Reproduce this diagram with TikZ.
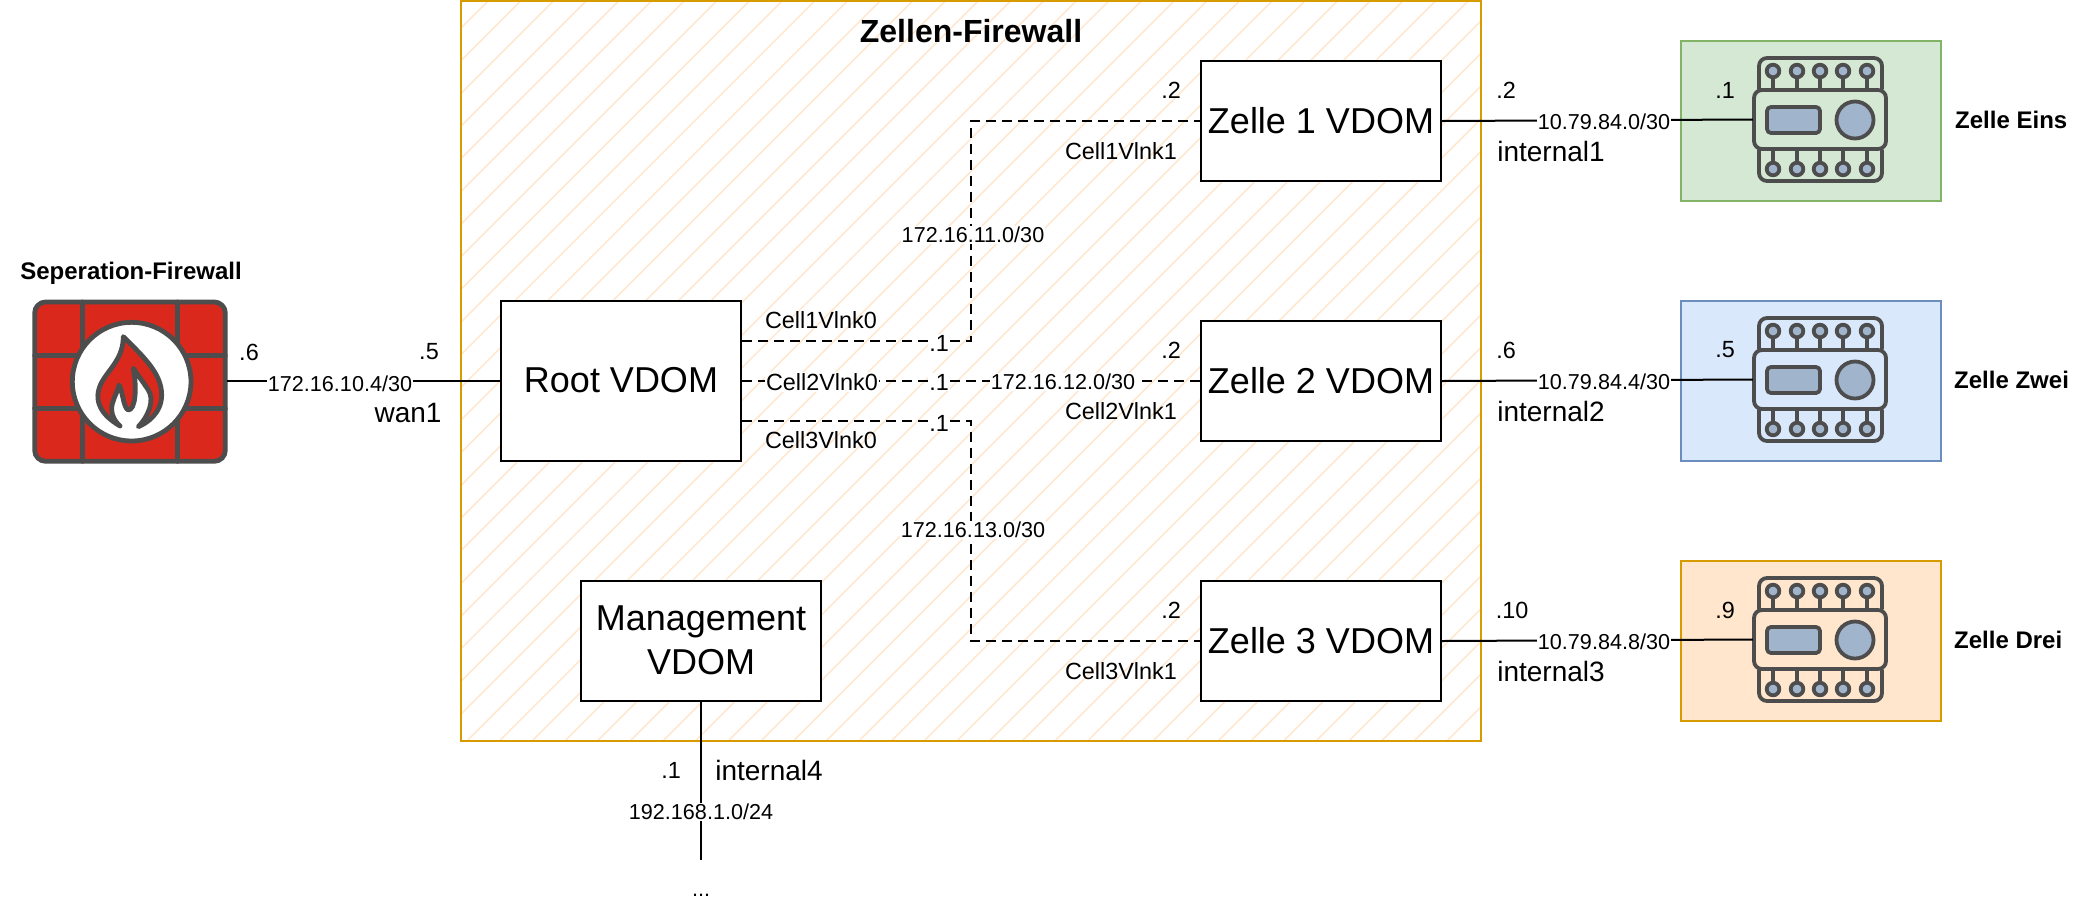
\documentclass[tikz,border=0pt]{standalone}
\usepackage{fontspec}
\setmainfont{Liberation Sans}
\newcommand{\szS}{\fontsize{21.6}{26}\selectfont}
\newcommand{\szM}{\fontsize{23.4}{29}\selectfont}
\newcommand{\szB}{\fontsize{24}{29}\selectfont}
\newcommand{\szL}{\fontsize{28}{33}\selectfont}
\newcommand{\szX}{\fontsize{36}{44}\selectfont}
\newcommand{\up}[1]{\raisebox{1.3pt}{#1}}
\definecolor{icongrey}{HTML}{4D4D4D}
\definecolor{iconblue}{HTML}{A0B4CC}
\definecolor{firered}{HTML}{DA291C}
\definecolor{hatchc}{HTML}{FFE6CC}
\definecolor{orangeb}{HTML}{D79B00}
\tikzset{
  vdom/.style={draw=black,line width=2pt,fill=white,minimum width=240pt,minimum height=120pt,inner sep=0pt,align=center,font=\szX},
  link/.style={draw=black,line width=2pt},
  vlink/.style={draw=black,line width=2pt,dash pattern=on 10pt off 6pt},
  lblS/.style={inner sep=1pt,font=\szS},
  lblD/.style={inner sep=1pt,font=\szM},
  lblW/.style={inner sep=1pt,font=\szS,fill=white},
  lblDW/.style={inner sep=1pt,font=\szM,fill=white},
  lblL/.style={inner sep=1pt,font=\szL},
  boldname/.style={inner sep=0pt,font=\szB\bfseries},
  cell/.style={line width=2pt,minimum width=260pt,minimum height=160pt,inner sep=0pt},
  hatchline/.style={draw=hatchc,line width=1.4pt},
  icon/.style={draw=icongrey,line width=3.8pt,line join=round,line cap=round},
  fwicon/.style={draw=icongrey,line width=4.8pt,line join=round,line cap=round},
  anchorbox/.style={inner sep=0pt,minimum width=134pt,minimum height=61pt},
}
\newcommand{\deviceicon}[2]{%
  \begin{scope}[shift={(0,#1)}]
    \draw[icon,rounded corners=8pt] (1759,89) -- (1759,58) -- (1882,58) -- (1882,89);
    \draw[icon,rounded corners=8pt] (1759,150) -- (1759,181) -- (1882,181) -- (1882,150);
    \foreach \px in {1773,1797,1820,1843,1867}{
      \draw[icon] (\px,71) -- (\px,89);
      \draw[icon] (\px,150) -- (\px,169);
      \draw[icon,fill=iconblue] (\px,71) circle[radius=6.3];
      \draw[icon,fill=iconblue] (\px,169) circle[radius=6.3];
    }
    \draw[icon,rounded corners=8pt] (1754,90) rectangle (1886,149);
    \draw[icon,fill=iconblue,rounded corners=4pt] (1767,107) rectangle (1820,133);
    \draw[icon,fill=iconblue] (1855,120) circle[radius=18.5];
    \node[anchorbox] (#2) at (1820,119.5) {};
  \end{scope}}
\begin{document}
\begin{tikzpicture}[x=1pt,y=-1pt]
\useasboundingbox[fill=white] (0,0) rectangle (2090,922);
% hatched zone
\begin{scope}
  \clip (461,1) rectangle (1481,741);
  \foreach \k in {0,...,54}{
    \draw[hatchline] ({489+32.67*\k},0) -- ({489+32.67*\k-800},800);
  }
\end{scope}
\node[draw=orangeb,line width=2pt,minimum width=1020pt,minimum height=740pt,inner sep=0pt] (zone) at (971,371) {};
\node[inner sep=0pt,font=\fontsize{32}{38}\selectfont\bfseries] (title) at (971,31) {Zellen-Firewall};
% vdoms
\node[vdom,minimum height=160pt] (root) at (621,381) {\up{Root VDOM}};
\node[vdom] (z1) at (1321,121) {\up{Zelle 1 VDOM}};
\node[vdom] (z2) at (1321,381) {\up{Zelle 2 VDOM}};
\node[vdom] (z3) at (1321,641) {\up{Zelle 3 VDOM}};
\node[vdom] (mgmt) at (701,641) {\up{Management}\\\up{VDOM}};
% cells
\node[cell,draw={rgb,255:red,130;green,179;blue,102},fill={rgb,255:red,213;green,232;blue,212}] (cell1) at (1811,121) {};
\node[cell,draw={rgb,255:red,108;green,142;blue,191},fill={rgb,255:red,218;green,232;blue,252}] (cell2) at (1811,381) {};
\node[cell,draw={rgb,255:red,215;green,155;blue,0},fill={rgb,255:red,255;green,230;blue,204}] (cell3) at (1811,641) {};
\deviceicon{0}{dev1}
\deviceicon{260}{dev2}
\deviceicon{520}{dev3}
% firewall icon
\begin{scope}[shift={(0,240)},x=0.3333pt,y=-0.3333pt]
  \draw[fwicon,fill=firered,rounded corners=11pt] (104,186) rectangle (676,664);
  \draw[fwicon] (247,186) -- (247,664);
  \draw[fwicon] (533,186) -- (533,664);
  \draw[fwicon] (104,347) -- (676,347);
  \draw[fwicon] (104,505) -- (676,505);
  \draw[fwicon,fill=white] (395,425) circle[radius=178];
  \fill[firered] (360,558) .. controls (295,520) and (290,480) .. (295,455)
    .. controls (305,400) and (370,370) .. (370,290)
    .. controls (430,350) and (485,400) .. (485,465)
    .. controls (485,520) and (440,550) .. (415,560)
    .. controls (445,530) and (465,480) .. (445,450)
    .. controls (425,420) and (410,400) .. (400,385)
    .. controls (412,450) and (405,510) .. (385,510)
    .. controls (370,505) and (368,450) .. (357,435)
    .. controls (348,470) and (335,480) .. (335,510)
    .. controls (335,530) and (350,550) .. (360,558) -- cycle;
  \draw[fwicon] (360,558) .. controls (295,520) and (290,480) .. (295,455)
    .. controls (305,400) and (370,370) .. (370,290)
    .. controls (430,350) and (485,400) .. (485,465)
    .. controls (485,520) and (440,550) .. (415,560)
    .. controls (445,530) and (465,480) .. (445,450)
    .. controls (425,420) and (410,400) .. (400,385)
    .. controls (412,450) and (405,510) .. (385,510)
    .. controls (370,505) and (368,450) .. (357,435)
    .. controls (348,470) and (335,480) .. (335,510)
    .. controls (335,530) and (350,550) .. (360,558);
\end{scope}
\node[inner sep=0pt,minimum width=194pt,minimum height=163pt] (fw) at (130,381) {};
% connectors
\coordinate (r1) at ([yshift=40pt]root.east);
\coordinate (r3) at ([yshift=-40pt]root.east);
\coordinate (vbus) at (971,0);
\coordinate (mgmtend) at (701,860);
\draw[link] (fw.east) -- (root.west);
\draw[vlink] (r1) -- (r1 -| vbus) -- (vbus |- z1.west) -- (z1.west);
\draw[vlink] (root.east) -- (z2.west);
\draw[vlink] (r3) -- (r3 -| vbus) -- (vbus |- z3.west) -- (z3.west);
\draw[link] (z1.east) -- (dev1.west);
\draw[link] (z2.east) -- (dev2.west);
\draw[link] (z3.east) -- (dev3.west);
\draw[link] (mgmt.south) -- (mgmtend);
% labels
\node[boldname] (nfw) at (131,273) {Seperation-Firewall};
\node[lblD] (l1) at (249,352) {.6};
\node[lblD] (l2) at (429,352) {.5};
\node[lblW] (l3) at (340,384) {172.16.10.4/30};
\node[lblL] (l4) at (408,413) {wan1};
\node[lblD] (c1) at (821,320) {Cell1Vlnk0};
\node[lblDW] (c2) at (822,382) {Cell2Vlnk0};
\node[lblD] (c3) at (821,440) {Cell3Vlnk0};
\node[lblDW] (d1) at (939,343) {.1};
\node[lblDW] (d2) at (939,382) {.1};
\node[lblDW] (d3) at (939,423) {.1};
\node[lblW] (n1) at (973,235) {172.16.11.0/30};
\node[lblW] (n2) at (1063,382) {172.16.12.0/30};
\node[lblW] (n3) at (973,530) {172.16.13.0/30};
\node[lblD] (e1) at (1171,90) {.2};
\node[lblD] (e2) at (1171,350) {.2};
\node[lblD] (e3) at (1171,610) {.2};
\node[lblD] (f1) at (1121,151) {Cell1Vlnk1};
\node[lblD] (f2) at (1121,411) {Cell2Vlnk1};
\node[lblD] (f3) at (1121,671) {Cell3Vlnk1};
\node[lblD] (g1) at (1506,90) {.2};
\node[lblD] (g2) at (1506,350) {.6};
\node[lblD] (g3) at (1512,610) {.10};
\node[lblW] (h1) at (1604,122) {10.79.84.0/30};
\node[lblW] (h2) at (1604,382) {10.79.84.4/30};
\node[lblW] (h3) at (1604,642) {10.79.84.8/30};
\node[lblL] (i1) at (1551,151) {internal1};
\node[lblL] (i2) at (1551,411) {internal2};
\node[lblL] (i3) at (1551,671) {internal3};
\node[lblD] (j1) at (1725,90) {.1};
\node[lblD] (j2) at (1725,350) {.5};
\node[lblD] (j3) at (1725,610) {.9};
\node[boldname,anchor=west] (k1) at (1955,120) {Zelle Eins};
\node[boldname,anchor=west] (k2) at (1954,380) {Zelle Zwei};
\node[boldname,anchor=west] (k3) at (1954,640) {Zelle Drei};
\node[lblD] (m1) at (671,770) {.1};
\node[lblL] (m2) at (769,770) {internal4};
\node[lblW] (m3) at (701,812) {192.168.1.0/24};
\node[lblS] (m4) at (701,895) {...};
\end{tikzpicture}
\end{document}
